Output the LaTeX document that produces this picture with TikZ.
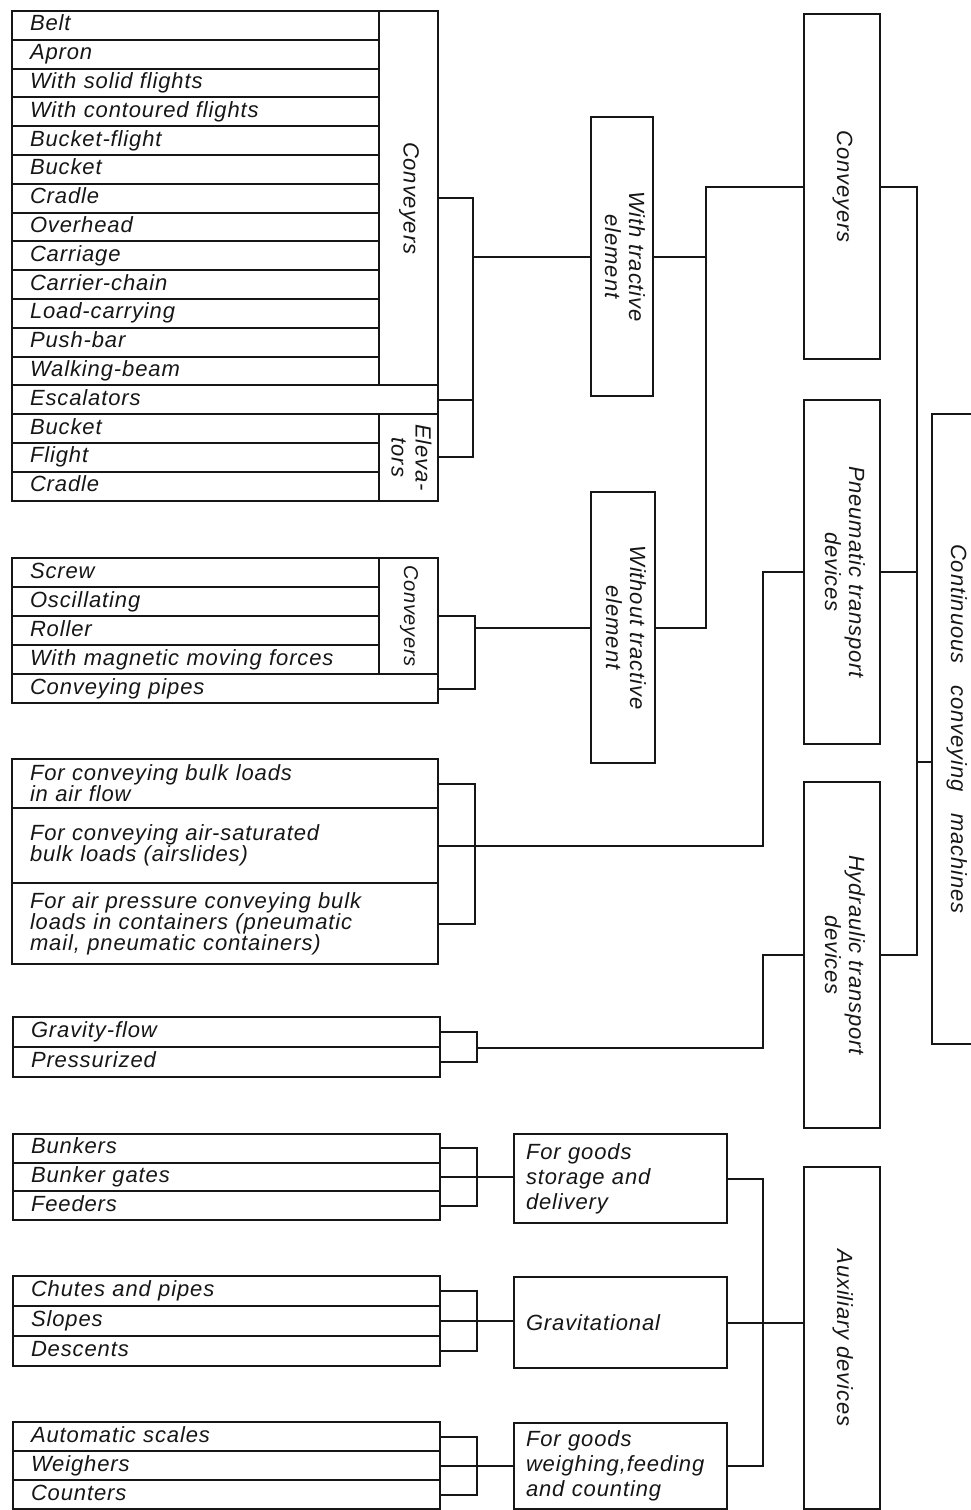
\documentclass[tikz,border=0pt]{standalone}
\usepackage{fontspec}
\setmainfont{Liberation Sans}[LetterSpace=4]
\definecolor{ink}{RGB}{22,22,22}
\newcommand{\vlabel}[1]{\rotatebox{-90}{\begin{tabular}{@{}c@{}}#1\end{tabular}}}
\tikzset{
  notebox/.style={
    draw=ink,
    text=ink,
    line width=2pt,
    anchor=north west,
    inner xsep=18pt,
    inner ysep=0pt,
    minimum height=28.8pt,
    text width=#1,
    align=left
  },
  notebox/.default=331pt,
  rowbox/.style={
    notebox=#1,
    text height=16pt,
    text depth=5pt
  },
  rowbox/.default=331pt,
  groupbox/.style={
    draw=ink,
    text=ink,
    line width=2pt,
    anchor=north west,
    inner sep=0pt
  },
  classbox/.style={
    draw=ink,
    text=ink,
    line width=2pt,
    anchor=north west,
    inner xsep=12pt,
    inner ysep=0pt,
    text width=189pt,
    align=left,
    font=\itshape\fontsize{22}{25}\selectfont
  },
  link/.style={
    draw=ink,
    line width=2pt
  }
}

\begin{document}
\begin{tikzpicture}[x=1pt,y=-1pt,font=\itshape\fontsize{22}{24}\selectfont]

  \useasboundingbox (0,0) rectangle (971,1510);
  \clip (0,0) rectangle (971,1510);

  % Vertical spines of the brackets, one per bracket column.
  \coordinate (tspine) at (473,0);
  \coordinate (sspine) at (475,0);
  \coordinate (aspine) at (475,0);
  \coordinate (gspine) at (477,0);
  \coordinate (bspine) at (477,0);
  \coordinate (cspine) at (706,0);
  \coordinate (pspine) at (763,0);
  \coordinate (xspine) at (763,0);
  \coordinate (rspine) at (917,0);

  % Conveyers and elevators with a tractive element.
  \node[rowbox] (belt) at (11,10) {Belt};
  \node[rowbox] (apron) at (11,38.8) {Apron};
  \node[rowbox] (solid) at (11,67.6) {With solid flights};
  \node[rowbox] (contour) at (11,96.4) {With contoured flights};
  \node[rowbox] (bflight) at (11,125.2) {Bucket-flight};
  \node[rowbox] (bucket) at (11,154.0) {Bucket};
  \node[rowbox] (cradle) at (11,182.8) {Cradle};
  \node[rowbox] (overhead) at (11,211.6) {Overhead};
  \node[rowbox] (carriage) at (11,240.4) {Carriage};
  \node[rowbox] (carrier) at (11,269.2) {Carrier-chain};
  \node[rowbox] (load) at (11,298.0) {Load-carrying};
  \node[rowbox] (push) at (11,326.8) {Push-bar};
  \node[rowbox] (walking) at (11,355.6) {Walking-beam};
  \node[rowbox=390pt] (esc) at (11,384.4) {Escalators};
  \node[rowbox] (ebucket) at (11,413.2) {Bucket};
  \node[rowbox] (eflight) at (11,442.0) {Flight};
  \node[rowbox] (ecradle) at (11,470.8) {Cradle};
  \node[groupbox,minimum width=59pt,minimum height=374.4pt]
    (topconv) at (378,10) {\vlabel{Conveyers}};
  \node[groupbox,minimum width=59pt,minimum height=86.4pt]
    (elev) at (378,413.2) {\vlabel{Eleva-\\tors}};

  % Conveyers without a tractive element.
  \node[rowbox,minimum height=29pt] (screw) at (11,557) {Screw};
  \node[rowbox,minimum height=29pt] (oscil) at (11,586) {Oscillating};
  \node[rowbox,minimum height=29pt] (roller) at (11,615) {Roller};
  \node[rowbox,minimum height=29pt] (magnet) at (11,644) {With magnetic moving forces};
  \node[rowbox=390pt,minimum height=29pt] (pipes) at (11,673) {Conveying pipes};
  \node[groupbox,minimum width=59pt,minimum height=116pt,
    font=\itshape\fontsize{20}{22}\selectfont]
    (sconv) at (378,557) {\vlabel{Conveyers}};

  % Pneumatic devices.
  \node[notebox=390pt,minimum height=49pt,font=\itshape\fontsize{22}{21}\selectfont]
    (air1) at (11,758) {For conveying bulk loads\\in air flow};
  \node[notebox=390pt,minimum height=75pt,font=\itshape\fontsize{22}{21}\selectfont]
    (air2) at (11,807) {For conveying air-saturated\\bulk loads (airslides)};
  \node[notebox=390pt,minimum height=81pt,font=\itshape\fontsize{22}{21}\selectfont]
    (air3) at (11,882) {For air pressure conveying bulk\\loads in containers (pneumatic\\mail, pneumatic containers)};

  % Hydraulic devices.
  \node[rowbox=391pt,minimum height=30pt] (gflow) at (12,1016) {Gravity-flow};
  \node[rowbox=391pt,minimum height=30pt] (press) at (12,1046) {Pressurized};

  % Auxiliary devices, three groups.
  \node[rowbox=391pt,minimum height=28.67pt] (bunk1) at (12,1133) {Bunkers};
  \node[rowbox=391pt,minimum height=28.67pt] (bunk2) at (12,1161.67) {Bunker gates};
  \node[rowbox=391pt,minimum height=28.67pt] (bunk3) at (12,1190.33) {Feeders};
  \node[rowbox=391pt,minimum height=30pt] (chute1) at (12,1275) {Chutes and pipes};
  \node[rowbox=391pt,minimum height=30pt] (chute2) at (12,1305) {Slopes};
  \node[rowbox=391pt,minimum height=30pt] (chute3) at (12,1335) {Descents};
  \node[rowbox=391pt,minimum height=29pt] (scale1) at (12,1421) {Automatic scales};
  \node[rowbox=391pt,minimum height=29pt] (scale2) at (12,1450) {Weighers};
  \node[rowbox=391pt,minimum height=29pt] (scale3) at (12,1479) {Counters};

  % Middle column.
  \node[groupbox,minimum width=62pt,minimum height=279pt]
    (withtr) at (590,116) {\vlabel{With tractive\\element}};
  \node[groupbox,minimum width=64pt,minimum height=271pt]
    (wotr) at (590,491) {\vlabel{Without tractive\\element}};
  \node[classbox,minimum height=89pt]
    (stor) at (513,1133) {For goods\\storage and\\delivery};
  \node[classbox,minimum height=91pt]
    (gravit) at (513,1276) {Gravitational};
  \node[classbox,minimum height=86pt]
    (weigh) at (513,1422) {For goods\\weighing,feeding\\and counting};

  % Main classes and the whole class, cut by the right page edge.
  \node[groupbox,minimum width=76pt,minimum height=345pt]
    (conv) at (803,13) {\vlabel{Conveyers}};
  \node[groupbox,minimum width=76pt,minimum height=344pt]
    (pneu) at (803,399) {\vlabel{Pneumatic transport\\devices}};
  \node[groupbox,minimum width=76pt,minimum height=346pt]
    (hydr) at (803,781) {\vlabel{Hydraulic transport\\devices}};
  \node[groupbox,minimum width=76pt,minimum height=342pt]
    (aux) at (803,1166) {\vlabel{Auxiliary devices}};
  \node[groupbox,minimum width=48pt,minimum height=630pt]
    (cont) at (931,413) {\vlabel{Continuous\quad conveying\quad machines}};
  \coordinate (contjoin) at ([yshift=-33pt]cont.west);

  % Brackets of the left lists.
  \draw[link] (topconv.east) -- (topconv.east -| tspine)
    -- (elev.east -| tspine) -- (elev.east);
  \draw[link] (esc.east) -- (esc.east -| tspine);
  \draw[link] (tspine |- withtr.west) -- (withtr.west);

  \draw[link] (sconv.east) -- (sconv.east -| sspine)
    -- (pipes.east -| sspine) -- (pipes.east);
  \draw[link] (sspine |- wotr.west) -- (wotr.west);

  \draw[link] (air1.east) -- (air1.east -| aspine)
    -- (air3.east -| aspine) -- (air3.east);
  \draw[link] (air2.east) -- (air2.east -| aspine);

  \draw[link] (gflow.east) -- (gflow.east -| gspine)
    -- (press.east -| gspine) -- (press.east);

  \draw[link] (bunk1.east) -- (bunk1.east -| bspine)
    -- (bunk3.east -| bspine) -- (bunk3.east);
  \draw[link] (bunk2.east) -- (bunk2.east -| stor.west);
  \draw[link] (chute1.east) -- (chute1.east -| bspine)
    -- (chute3.east -| bspine) -- (chute3.east);
  \draw[link] (chute2.east) -- (chute2.east -| gravit.west);
  \draw[link] (scale1.east) -- (scale1.east -| bspine)
    -- (scale3.east -| bspine) -- (scale3.east);
  \draw[link] (scale2.east) -- (scale2.east -| weigh.west);

  % Middle column to the main classes.
  \draw[link] (conv.west) -- (conv.west -| cspine)
    -- (cspine |- wotr.east) -- (wotr.east);
  \draw[link] (withtr.east) -- (withtr.east -| cspine);
  \draw[link] (pneu.west) -- (pneu.west -| pspine)
    -- (pspine |- air2.east) -- (air2.east -| aspine);
  \draw[link] (hydr.west) -- (hydr.west -| pspine)
    -- (pspine |- gflow.south east) -- (gflow.south east -| gspine);
  \draw[link] (stor.east) -- (stor.east -| xspine)
    -- (xspine |- weigh.east) -- (weigh.east);
  \draw[link] (gravit.east) -- (gravit.east -| aux.west);

  % Main classes to the whole class.
  \draw[link] (conv.east) -- (conv.east -| rspine)
    -- (rspine |- hydr.east) -- (hydr.east);
  \draw[link] (pneu.east) -- (pneu.east -| rspine);
  \draw[link] (rspine |- contjoin) -- (contjoin);

\end{tikzpicture}
\end{document}
